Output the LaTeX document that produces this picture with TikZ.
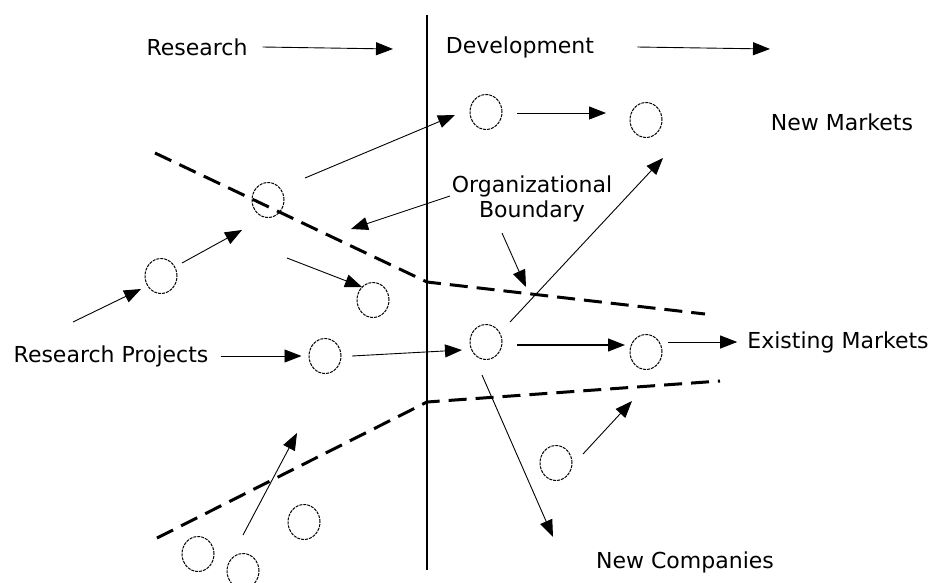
\documentclass[tikz,border=0pt]{standalone}
\usepackage{fontspec}
\setmainfont{DejaVu Sans}
\usetikzlibrary{arrows.meta,shapes.geometric}
\begin{document}
\begin{tikzpicture}[x=1pt,y=-1pt,
  lbl/.style={font=\fontsize{22}{25}\selectfont, inner sep=0pt, align=center},
  proj/.style={ellipse, draw, line width=1pt, dash pattern=on 3pt off 1pt, minimum width=32pt, minimum height=35pt, inner sep=0pt},
  arr/.style={line width=0.9pt, -{Triangle[length=17pt,width=13pt]}},
  bound/.style={line width=3pt, dash pattern=on 18pt off 9pt},
  axis/.style={line width=1.3pt}]
\useasboundingbox (0,0) rectangle (931,582);
% axis
\coordinate (v1) at (427,15);
\coordinate (v2) at (427,570);
\draw[axis] (v1) -- (v2);
% labels
\node[lbl] (res) at (197,47) {Research};
\node[lbl] (dev) at (520,47) {Development};
\node[lbl] (nm) at (842,122) {New Markets};
\node[lbl] (ob) at (532,199) {Organizational\\Boundary};
\node[lbl] (em) at (838,342) {Existing Markets};
\node[lbl] (rp) at (111,356) {Research Projects};
\node[lbl] (nc) at (685,562) {New Companies};
% circles
\node[proj] (c1) at (486,112) {};
\node[proj] (c2) at (646,120) {};
\node[proj] (c3) at (268,200) {};
\node[proj] (c4) at (161,276) {};
\node[proj] (c5) at (373,300) {};
\node[proj] (c6) at (325,356) {};
\node[proj] (c7) at (486,342) {};
\node[proj] (c8) at (646,352) {};
\node[proj] (c9) at (556,463) {};
\node[proj] (c10) at (304,522) {};
\node[proj] (c11) at (198,554) {};
\node[proj] (c12) at (243,571) {};
% boundaries
\coordinate (u1) at (155,153);
\coordinate (u2) at (427,282);
\coordinate (u3) at (705,314);
\coordinate (l1) at (157,538);
\coordinate (l2) at (427,402);
\coordinate (l3) at (720,381);
\draw[bound] (u1) -- (u2) -- (u3);
\draw[bound] (l1) -- (l2) -- (l3);
% free ends
\coordinate (ra) at (393,49);
\coordinate (da) at (770,49);
\coordinate (s1) at (73,322);
\coordinate (s2) at (287,258);
\coordinate (b1) at (351,229);
\coordinate (b2) at (526,287);
\coordinate (nmt) at (663,158);
\coordinate (nct) at (553,537);
\coordinate (ext) at (632,401);
\coordinate (int) at (297,433);
% connectors
\draw[arr] ([xshift=15pt]res.east) -- (ra);
\draw[arr] ([xshift=43pt]dev.east) -- (da);
\draw[arr] ([shift={(37,-22)}]c3.center) -- ([shift={(-31,3)}]c1.center);
\draw[arr] ([shift={(31,1)}]c1.center) -- ([shift={(-40,-7)}]c2.center);
\draw[arr] (s1) -- ([shift={(-20,13)}]c4.center);
\draw[arr] ([shift={(21,-13)}]c4.center) -- ([shift={(-26,30)}]c3.center);
\draw[arr] (s2) -- ([shift={(-11,-13)}]c5.center);
\draw[arr] ([shift={(-82,-3)}]ob.center) -- (b1);
\draw[arr] ([shift={(-30,34)}]ob.center) -- (b2);
\draw[arr] ([shift={(24,-20)}]c7.center) -- (nmt);
\draw[arr] ([xshift=12pt]rp.east) -- ([xshift=-7pt]c6.west);
\draw[arr] ([shift={(27,0)}]c6.center) -- ([shift={(-24,8)}]c7.center);
\draw[arr, line width=1.3pt] ([shift={(31,3)}]c7.center) -- ([shift={(-21,-7)}]c8.center);
\draw[arr] ([shift={(22,-10)}]c8.center) -- ([xshift=-10pt]em.west);
\draw[arr] ([shift={(-4,33)}]c7.center) -- (nct);
\draw[arr] ([shift={(27,-9)}]c9.center) -- (ext);
\draw[arr] ([shift={(0,-36)}]c12.center) -- (int);
\end{tikzpicture}
\end{document}
